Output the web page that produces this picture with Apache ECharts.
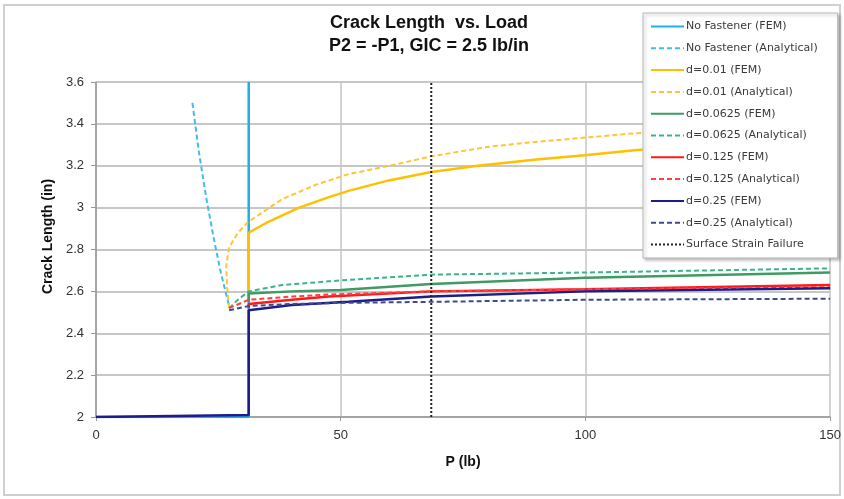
<!DOCTYPE html>
<html>
<head>
<meta charset="utf-8">
<title>Crack Length vs. Load</title>
<script src="https://cdn.jsdelivr.net/npm/echarts@6/dist/echarts.min.js"></script>
<style>
    html, body { margin: 0; padding: 0; background: #fff; }
    #chart { width: 844px; height: 499px; }
</style>
</head>
<body>
<div id="chart"></div>
<script>
// axis ticks
const xTicks = [0, 50, 100, 150];
const yTicks = [2, 2.2, 2.4, 2.6, 2.8, 3, 3.2, 3.4, 3.6];

// [P (lb), crack length (in)]
const noFastenerFem = [[0, 2.0], [31.2, 2.0], [31.2, 3.6]];
const noFastenerAna = [[19.7, 3.5], [21, 3.27], [22.5, 3.05], [24, 2.86], [25.5, 2.69], [27.2, 2.53]];

const d001Fem = [[31.2, 2.6], [31.2, 2.88], [35, 2.93], [41.5, 3.0], [47.6, 3.05], [51.6, 3.08], [59.8, 3.13],
    [68.5, 3.17], [78, 3.2], [90, 3.23], [99.8, 3.25], [110.6, 3.275], [130, 3.31], [150, 3.34]];
const d001Ana = [[27.2, 2.52], [26.8, 2.62], [26.6, 2.72], [27.2, 2.81], [29, 2.88], [31, 2.93], [38, 3.04],
    [45, 3.11], [51.6, 3.16], [60, 3.2], [68.5, 3.245], [80, 3.29], [88, 3.31], [110, 3.355], [150, 3.4]];

const d0625Fem = [[31.2, 2.55], [31.2, 2.59], [40, 2.6], [50, 2.607], [68.5, 2.635], [100, 2.665], [150, 2.69]];
const d0625Ana = [[27.2, 2.52], [29, 2.56], [31.2, 2.6], [38, 2.63], [47.6, 2.648], [51.6, 2.655], [68.5, 2.68],
    [100, 2.69], [150, 2.71]];

const d125Fem = [[31.2, 2.52], [31.2, 2.54], [40, 2.56], [47.6, 2.575], [68.5, 2.6], [100, 2.61], [150, 2.63]];
const d125Ana = [[27.2, 2.52], [31.2, 2.56], [40, 2.575], [47.6, 2.585], [68.5, 2.6], [100, 2.61], [150, 2.62]];

const d25Fem = [[0, 2.0], [31.2, 2.01], [31.2, 2.51], [40, 2.535], [51.6, 2.55], [68.5, 2.575], [100, 2.6], [150, 2.615]];
const d25Ana = [[27.2, 2.51], [31.2, 2.53], [40, 2.54], [50, 2.545], [68.5, 2.55], [100, 2.56], [150, 2.565]];

const strainFailure = [[68.5, 2.0], [68.5, 3.6]];

const seriesNames = [
    "No Fastener (FEM)", "No Fastener (Analytical)",
    "d=0.01 (FEM)", "d=0.01 (Analytical)",
    "d=0.0625 (FEM)", "d=0.0625 (Analytical)",
    "d=0.125 (FEM)", "d=0.125 (Analytical)",
    "d=0.25 (FEM)", "d=0.25 (Analytical)",
    "Surface Strain Failure"
];
const seriesData = [
    noFastenerFem, noFastenerAna, d001Fem, d001Ana, d0625Fem, d0625Ana,
    d125Fem, d125Ana, d25Fem, d25Ana, strainFailure
];
const seriesColors = [
    "#1bb0e6", "#3fbdec", "#ffc000", "#ffc533", "#3f9a63", "#3db388",
    "#ff1a1a", "#ff4040", "#1c1c8a", "#3e4c8e", "#222222"
];
const lineTypes = [
    "solid", [5, 3], "solid", [5, 3], "solid", [5, 3],
    "solid", [5, 3], "solid", [5, 3], [2, 2]
];
const lineWidths = [2.5, 2, 2.5, 2, 2.5, 2, 2.5, 2, 2.5, 2, 2];

const chart = echarts.init(document.getElementById("chart"));

chart.setOption({
    animation: false,
    title: {
        text: "Crack Length  vs. Load\nP2 = -P1, GIC = 2.5 lb/in",
        left: 424,
        top: 7,
        textAlign: "center",
        textStyle: {
            fontFamily: "Arial, Liberation Sans",
            fontSize: 18,
            fontWeight: "bold",
            color: "#111",
            lineHeight: 23,
        },
    },
    // outer frame
    graphic: [
        {
            type: "rect",
            shape: { x: 4, y: 5, width: 836, height: 490 },
            style: { fill: "none", stroke: "#cfcfcf", lineWidth: 2 },
            silent: true,
        },
    ],
    legend: {
        orient: "vertical",
        left: 643,
        top: 13,
        itemWidth: 33,
        itemHeight: 12,
        itemGap: 10.8,
        padding: [8, 20, 8, 7],
        backgroundColor: "#fff",
        borderColor: "#b5b5b5",
        borderWidth: 1,
        shadowColor: "rgba(0,0,0,0.25)",
        shadowBlur: 3,
        shadowOffsetX: 2,
        shadowOffsetY: 2,
        // hide the symbol, keep the line sample
        itemStyle: { opacity: 0 },
        textStyle: {
            fontFamily: "DejaVu Sans",
            fontSize: 11,
            color: "#3a3a3a",
            padding: [0, 0, 0, -3],
        },
        data: seriesNames,
    },
    grid: {
        left: 96,
        right: 10,
        top: 82,
        bottom: 82,
        containLabel: false,
    },
    xAxis: {
        type: "value",
        min: xTicks[0],
        max: xTicks[xTicks.length - 1],
        interval: 50,
        name: "P (lb)",
        nameLocation: "middle",
        nameGap: 38,
        nameTextStyle: {
            fontFamily: "Arial, Liberation Sans",
            fontSize: 14,
            fontWeight: "bold",
            color: "#111",
        },
        axisLine: { lineStyle: { color: "#999", width: 1.5 } },
        axisTick: { show: true, length: 4, lineStyle: { color: "#999" } },
        axisLabel: {
            margin: 12,
            fontFamily: "Arial, Liberation Sans",
            fontSize: 13,
            color: "#333",
        },
        splitLine: { show: true, lineStyle: { color: "#c4c4c4", width: 1.5 } },
    },
    yAxis: {
        type: "value",
        min: yTicks[0],
        max: yTicks[yTicks.length - 1],
        interval: 0.2,
        name: "Crack Length (in)",
        nameLocation: "middle",
        nameGap: 40,
        nameTextStyle: {
            fontFamily: "Arial, Liberation Sans",
            fontSize: 14,
            fontWeight: "bold",
            color: "#111",
            padding: [0, 0, 0, 26],
        },
        axisLine: { show: true, lineStyle: { color: "#999", width: 1.5 } },
        axisTick: { show: true, length: 5, lineStyle: { color: "#999" } },
        axisLabel: {
            margin: 12,
            fontFamily: "Arial, Liberation Sans",
            fontSize: 13,
            color: "#333",
            formatter: (v) => String(Math.round(v * 10) / 10),
        },
        splitLine: { show: true, lineStyle: { color: "#b4b4b4", width: 1.5 } },
    },
    series: seriesNames.map((name, i) => ({
        name: name,
        type: "line",
        data: seriesData[i],
        showSymbol: false,
        symbol: "none",
        smooth: false,
        color: seriesColors[i],
        lineStyle: {
            color: seriesColors[i],
            width: lineWidths[i],
            type: lineTypes[i],
        },
        z: i === 10 ? 5 : 2,
    })),
});
</script>
</body>
</html>
